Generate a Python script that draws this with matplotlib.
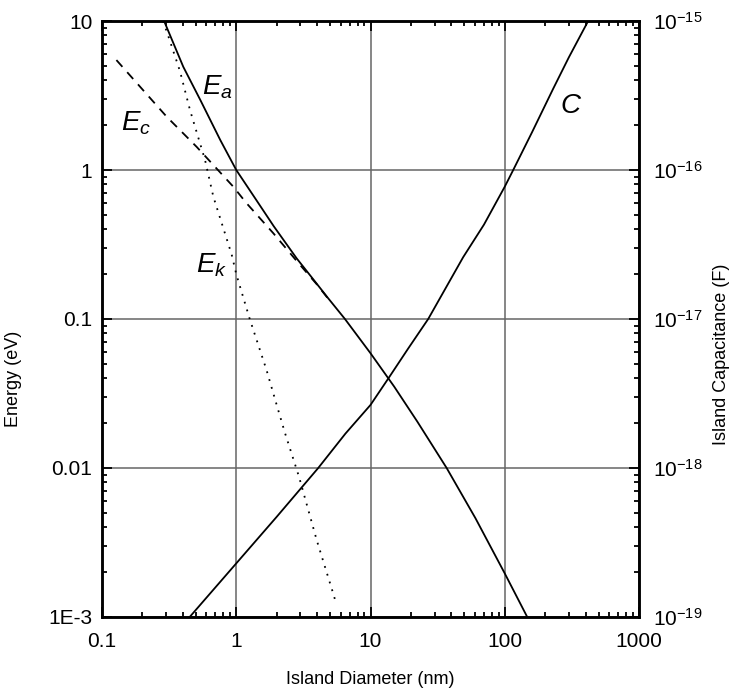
import matplotlib
matplotlib.use("Agg")
import matplotlib.pyplot as plt
from matplotlib import ticker

plt.rcParams['font.family'] = ['Liberation Sans', 'DejaVu Sans']
plt.rcParams['mathtext.fontset'] = 'custom'
plt.rcParams['mathtext.rm'] = 'Liberation Sans'
plt.rcParams['mathtext.it'] = 'Liberation Sans:italic'

# --- values ---
# total energy E_a (solid)
d_ea = [0.29, 0.403, 0.54, 0.76, 1.0, 1.4, 1.9, 2.82, 3.74, 4.8, 6.45,
        10, 15, 22.3, 36.9, 60.5, 100, 147]
e_a = [10.0, 4.93, 2.95, 1.59, 1.0, 0.635, 0.42, 0.255, 0.185, 0.139, 0.1,
       0.0589, 0.0352, 0.0205, 0.01, 4.6e-3, 1.96e-3, 1e-3]

# charging energy E_c (dashed)
d_ec = [0.128, 0.303, 0.507, 0.95, 1.19, 1.89, 2.82, 4.0, 4.8]
e_c = [5.47, 2.28, 1.43, 0.773, 0.60, 0.376, 0.245, 0.17, 0.138]

# kinetic energy E_k (dotted)
d_ek = [0.285, 0.312, 0.381, 0.452, 0.585, 0.675, 0.925, 1.0, 1.26, 1.68,
        2.0, 2.31, 2.94, 3.97, 5.27, 5.45]
e_k = [10.0, 7.9, 4.6, 2.53, 1.17, 0.662, 0.27, 0.2, 0.1, 0.0455,
       0.0265, 0.0171, 8.67e-3, 3.29e-3, 1.44e-3, 1.3e-3]

# island capacitance C (right axis)
d_c = [0.45, 1.0, 2.0, 4.08, 6.5, 10, 13.6, 19, 26.9, 49, 70, 100, 115.6,
       160, 229, 300, 418]
cap = [1e-19, 2.29e-19, 4.7e-19, 1e-18, 1.7e-18, 2.65e-18, 4.0e-18, 6.3e-18,
       1e-17, 2.6e-17, 4.3e-17, 7.73e-17, 1e-16, 1.8e-16, 3.5e-16, 5.7e-16,
       1e-15]

x_ticks = [0.1, 1, 10, 100, 1000]
x_labels = ['0.1', '1', '10', '100', '1000']
y_ticks = [1e-3, 1e-2, 0.1, 1, 10]
y_labels = ['1E-3', '0.01', '0.1', '1', '10']
c_ticks = [1e-19, 1e-18, 1e-17, 1e-16, 1e-15]

fig = plt.figure(figsize=(7.35, 6.94), dpi=100)
ax = fig.add_axes([0.1388, 0.111, 0.7306, 0.8587])

ax.set_xscale('log')
ax.set_yscale('log')
ax.set_xlim(0.1, 1000)
ax.set_ylim(1e-3, 10)

ax.grid(True, which='major', color='0.4', lw=1.1)

ax.plot(d_ea, e_a, color='black', lw=1.3)
ax.plot(d_ec, e_c, color='black', lw=1.3, linestyle=(0, (5, 4)))
ax.plot(d_ek, e_k, color='black', lw=1.3, linestyle=(0, (1, 3.5)))

ax.set_xticks(x_ticks, x_labels)
ax.set_yticks(y_ticks, y_labels)
ax.xaxis.set_minor_formatter(ticker.NullFormatter())
ax.yaxis.set_minor_formatter(ticker.NullFormatter())
ax.tick_params(which='both', direction='in', top=True, right=False,
               labelsize=15, width=1.3)
ax.tick_params(which='major', length=7)
ax.tick_params(which='minor', length=3.5)
ax.tick_params(axis='x', pad=11)
ax.tick_params(axis='y', pad=7)

ax.set_xlabel('Island Diameter (nm)', fontsize=13, labelpad=14)
ax.set_ylabel('Energy (eV)', fontsize=13)
ax.yaxis.set_label_coords(-0.149, 0.40)

for side in ax.spines.values():
    side.set_linewidth(1.8)

# right axis: capacitance
ax2 = ax.twinx()
ax2.set_yscale('log')
ax2.set_ylim(1e-19, 1e-15)
ax2.plot(d_c, cap, color='black', lw=1.3)
ax2.set_yticks(c_ticks)
ax2.yaxis.set_major_formatter(ticker.LogFormatterMathtext())
ax2.yaxis.set_minor_formatter(ticker.NullFormatter())
ax2.tick_params(which='both', direction='in', labelsize=15, width=1.3, pad=10)
ax2.tick_params(which='major', length=7)
ax2.tick_params(which='minor', length=3.5)
ax2.set_ylabel('Island Capacitance (F)', fontsize=13)
ax2.yaxis.set_label_coords(1.138, 0.44)
for side in ax2.spines.values():
    side.set_linewidth(1.8)

# curve labels
ax.text(0.718, 3.61, r'$E_a$', fontsize=20, ha='center', va='center')
ax.text(0.179, 2.07, r'$E_c$', fontsize=20, ha='center', va='center')
ax.text(0.659, 0.230, r'$E_k$', fontsize=20, ha='center', va='center')
ax.text(310, 2.69, r'$C$', fontsize=20, ha='center', va='center')

fig.savefig('out.png', dpi=100)
